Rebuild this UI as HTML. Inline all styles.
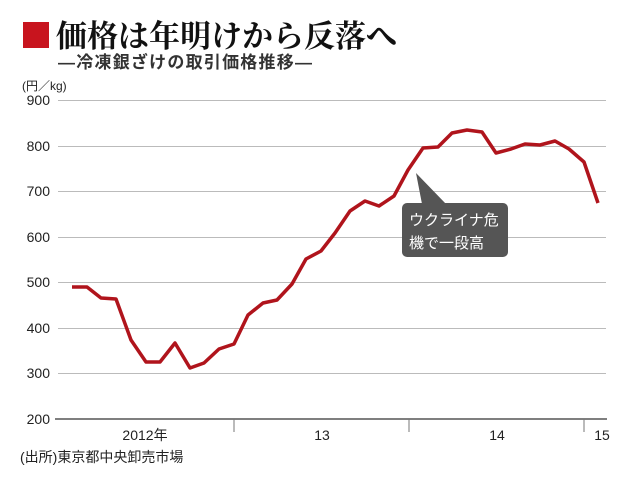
<!DOCTYPE html>
<html><head><meta charset="utf-8"><style>
body{margin:0;background:#fff;}
svg text{font-family:"Liberation Sans","Noto Sans CJK JP",sans-serif;}
</style></head><body>
<svg width="640" height="484" viewBox="0 0 640 484" xmlns="http://www.w3.org/2000/svg">
<rect x="23" y="22" width="26" height="26" fill="#c8141e"/>
<text x="56" y="47" font-size="31" font-weight="bold" fill="#111" style="font-family:'Noto Serif CJK SC','Noto Sans CJK JP',serif">価格は年明けから反落へ</text>
<text x="58" y="68" font-size="17" font-weight="bold" fill="#333" textLength="254">―冷凍銀ざけの取引価格推移―</text>
<text x="22" y="90" font-size="12" fill="#222">(円／kg)</text>
<g stroke="#bbb" stroke-width="1">
<line x1="58" y1="100.5" x2="606" y2="100.5"/>
<line x1="58" y1="146.5" x2="606" y2="146.5"/>
<line x1="58" y1="191.5" x2="606" y2="191.5"/>
<line x1="58" y1="237.5" x2="606" y2="237.5"/>
<line x1="58" y1="282.5" x2="606" y2="282.5"/>
<line x1="58" y1="328.5" x2="606" y2="328.5"/>
<line x1="58" y1="373.5" x2="606" y2="373.5"/>
</g>
<line x1="55" y1="419" x2="607" y2="419" stroke="#555" stroke-width="1.5"/>
<g stroke="#777" stroke-width="1"><line x1="234" y1="419" x2="234" y2="432"/><line x1="409" y1="419" x2="409" y2="432"/><line x1="584" y1="419" x2="584" y2="432"/></g>
<g font-size="14" fill="#222" text-anchor="end">
<text x="50" y="105">900</text><text x="50" y="151">800</text><text x="50" y="196">700</text><text x="50" y="242">600</text><text x="50" y="287">500</text><text x="50" y="333">400</text><text x="50" y="378">300</text><text x="50" y="424">200</text>
</g>
<g font-size="14" fill="#222" text-anchor="middle">
<text x="145" y="440">2012年</text><text x="322" y="440">13</text><text x="497" y="440">14</text><text x="602" y="440">15</text>
</g>
<text x="20" y="462" font-size="14" fill="#222">(出所)東京都中央卸売市場</text>
<polyline fill="none" stroke="#b0141c" stroke-width="3.5" stroke-linejoin="round" points="72,287 87,287 101,298 116,299 131,340 146,362 160,362 175,343 190,368 204,363 219,349 234,344 248,315 263,303 277,300 292,284 306,259 321,251 335,233 350,211 365,201 379,206 394,196 408,170 423,148 438,147 452,133 467,130 482,132 496,153 511,149 525,144 540,145 555,141 569,149 584,162 598,203"/>
<polygon points="416,173 422,204 446,204" fill="#555"/>
<rect x="402" y="203" width="106" height="54" rx="5" fill="#555"/>
<text x="409" y="225" font-size="15" fill="#fff">ウクライナ危</text>
<text x="409" y="248" font-size="15" fill="#fff">機で一段高</text>
</svg>
</body></html>
